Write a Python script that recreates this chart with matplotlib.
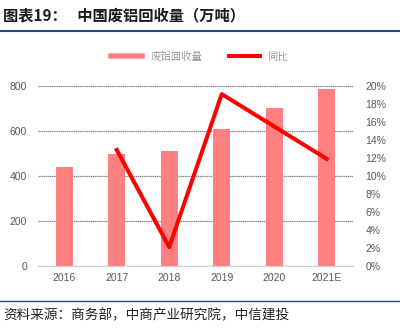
import matplotlib
matplotlib.use("Agg")
import matplotlib.pyplot as plt
from matplotlib.lines import Line2D
import numpy as np

plt.rcParams['font.family'] = ['Liberation Sans', 'Noto Sans CJK SC', 'DejaVu Sans']

years = ["2016", "2017", "2018", "2019", "2020", "2021E"]
volume = [441, 498, 510, 607, 701, 785]
yoy_years = ["2017", "2018", "2019", "2020", "2021E"]
yoy = [12.9, 2.1, 19.1, 15.5, 11.9]

bar_color = "#FF8080"
line_color = "#FF0000"
grey = "#595959"

fig = plt.figure(figsize=(4.0, 3.34), dpi=100)
ax = fig.add_axes([38 / 400, 1 - 266 / 334, 315 / 400, 180 / 334])
ax2 = ax.twinx()

x = np.arange(len(years))
ax.bar(x, volume, width=0.32, color=bar_color, zorder=2)
ax.set_xlim(-0.5, len(years) - 0.5)
ax.set_ylim(0, 800)
ax.set_yticks([0, 200, 400, 600, 800])
ax.set_xticks(x)
ax.set_xticklabels(years)
ax.yaxis.grid(True, color="#808080", linestyle=(0, (1, 0.5)), linewidth=0.9, zorder=0)
ax.set_axisbelow(True)

xi = [years.index(y) for y in yoy_years]
ax2.plot(xi, yoy, color=line_color, linewidth=2.9, zorder=3)
ax2.set_ylim(0, 20)
ax2.set_yticks(range(0, 21, 2))
ax2.set_yticklabels([f"{v}%" for v in range(0, 21, 2)])

for a in (ax, ax2):
    for s in a.spines.values():
        s.set_visible(False)
    a.tick_params(length=0, labelsize=7.5, colors=grey)
ax.spines['bottom'].set_visible(True)
ax.spines['bottom'].set_color("#d0d0d0")
ax.tick_params(axis='y', pad=8)
ax.tick_params(axis='x', pad=5)
ax2.tick_params(axis='y', pad=9)

# legend
handles = [Line2D([], [], color=bar_color, linewidth=4),
           Line2D([], [], color=line_color, linewidth=2.9)]
fig.legend(handles, ["废铝回收量", "同比"], loc="center", bbox_to_anchor=(0.5, 1 - 57 / 334),
           ncol=2, frameon=False, handlelength=3.0, columnspacing=2.5,
           prop={'family': ['Noto Serif CJK SC', 'Noto Sans CJK SC'], 'size': 7.5},
           labelcolor="#8c8c8c")

# title and rules
fig.text(0.008, 1 - 15 / 334, "图表19：   中国废铝回收量（万吨）", fontsize=11, fontweight="bold",
         family=['Noto Sans CJK SC', 'DejaVu Sans'], va="center", color="#1a1a1a")
fig.add_artist(Line2D([0, 1], [1 - 31 / 334] * 2, color="#1F4E79", linewidth=1.5))
fig.add_artist(Line2D([0, 1], [1 - 301 / 334] * 2, color="#1F4E79", linewidth=1.0))
fig.text(0.008, 1 - 315 / 334, "资料来源：商务部，中商产业研究院，中信建投", fontsize=9.8,
         family=['Noto Sans CJK SC', 'DejaVu Sans'], style="italic", va="center", color="#222222")

fig.savefig("out.png", dpi=100)
